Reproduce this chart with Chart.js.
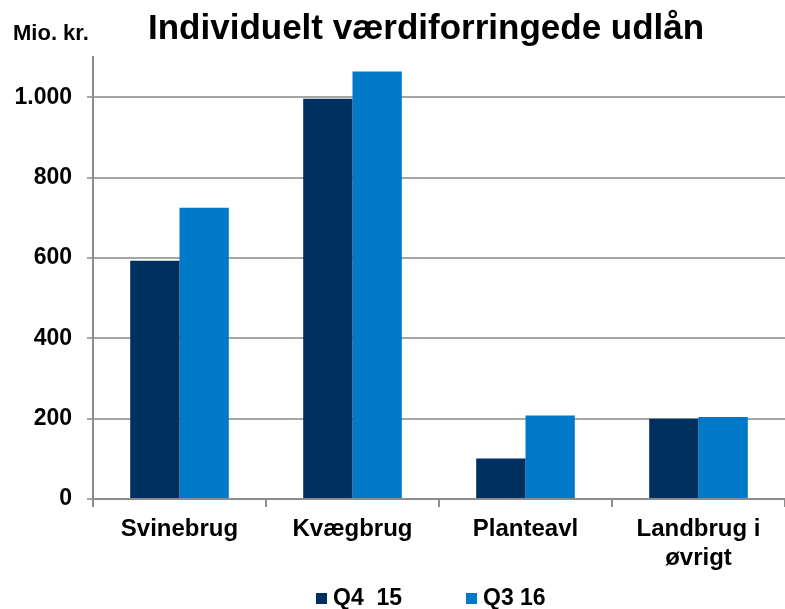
<!DOCTYPE html>
<html>
<head>
<meta charset="utf-8">
<script src="https://cdn.jsdelivr.net/npm/chart.js@4"></script>
<style>
  html, body { margin: 0; padding: 0; background: #fff; }
  #wrap { width: 785px; height: 609px; position: relative; }
</style>
</head>
<body>
<div id="wrap"><canvas id="barChart"></canvas></div>
<script>
// data
const categories = ['Svinebrug', 'Kvægbrug', 'Planteavl', ['Landbrug i', 'øvrigt']];
const q4_15 = [593, 996, 101, 200];
const q3_16 = [725, 1064, 208, 204];
const seriesNames = ['Q4  15', 'Q3 16'];
const yTicks = [0, 200, 400, 600, 800, 1000];

const FONT = "'Liberation Sans', Arial, sans-serif";
const darkBlue = '#00305f';
const lightBlue = '#0079c9';

// title, unit label and legend drawn on the canvas
const textPlugin = {
  id: 'textPlugin',
  afterDraw(chart) {
    const c = chart.ctx;
    c.save();
    c.fillStyle = '#000';
    c.textBaseline = 'alphabetic';
    c.textAlign = 'left';
    c.font = 'bold 35px ' + FONT;
    c.fillText('Individuelt værdiforringede udlån', 148, 39);
    c.font = 'bold 22px ' + FONT;
    c.fillText('Mio. kr.', 13, 40);

    // legend
    c.font = 'bold 23px ' + FONT;
    c.textBaseline = 'middle';
    const legendX = [316, 466];
    chart.data.datasets.forEach((ds, i) => {
      c.fillStyle = ds.backgroundColor;
      c.fillRect(legendX[i], 593, 11, 11);
      c.fillStyle = '#000';
      c.fillText(ds.label, legendX[i] + 17, 599);
    });
    c.restore();
  }
};

const ctx = document.getElementById('barChart').getContext('2d');
const barChart = new Chart(ctx, {
  type: 'bar',
  data: {
    labels: categories,
    datasets: [
      { label: seriesNames[0], data: q4_15, backgroundColor: darkBlue },
      { label: seriesNames[1], data: q3_16, backgroundColor: lightBlue }
    ]
  },
  options: {
    responsive: true,
    maintainAspectRatio: false,
    animation: false,
    categoryPercentage: 0.57,
    barPercentage: 1,
    layout: { padding: { top: 57, bottom: 30, left: 0, right: 0 } },
    plugins: {
      legend: { display: false },
      title: { display: false },
      tooltip: { enabled: false }
    },
    scales: {
      x: {
        grid: {
          offset: true,
          drawOnChartArea: false,
          color: '#8c8c8c',
          lineWidth: 2,
          tickLength: 8
        },
        border: { color: '#8c8c8c', width: 2 },
        ticks: {
          color: '#000',
          padding: 8,
          maxRotation: 0,
          font: { family: FONT, size: 24, weight: 'bold', lineHeight: 1.2 }
        },
        afterFit(scale) { scale.height = 80; }
      },
      y: {
        min: 0,
        max: 1100,
        afterBuildTicks(scale) {
          scale.ticks = yTicks.map(v => ({ value: v }));
        },
        grid: {
          color: '#a6a6a6',
          lineWidth: 2,
          tickLength: 6
        },
        border: { color: '#8c8c8c', width: 2 },
        ticks: {
          color: '#000',
          padding: 15,
          font: { family: FONT, size: 23, weight: 'bold' },
          callback: v => v.toLocaleString('da-DK')
        },
        afterFit(scale) { scale.width = 93; }
      }
    }
  },
  plugins: [textPlugin]
});
</script>
</body>
</html>
